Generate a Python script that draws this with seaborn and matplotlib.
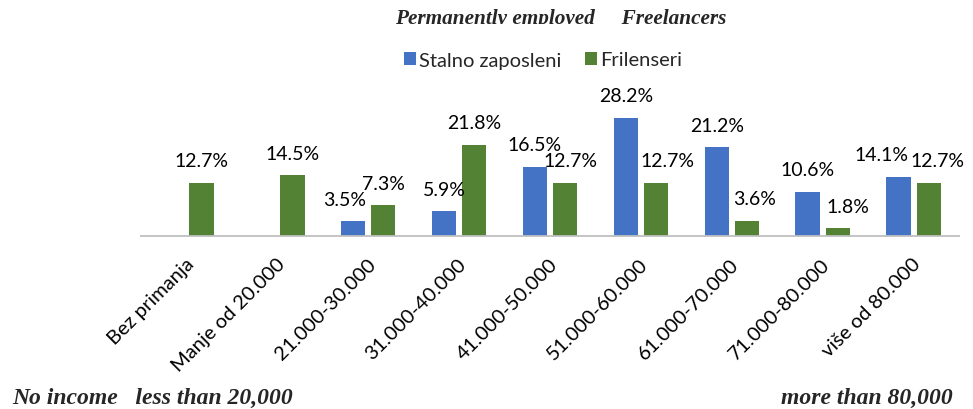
import numpy as np
import pandas as pd
import matplotlib
matplotlib.use("Agg")
import matplotlib.pyplot as plt
import matplotlib.transforms as mtransforms
import seaborn as sns

# Income brackets (RSD) and share of respondents per group, in percent
categories = [
    "Bez primanja", "Manje od 20.000", "21.000-30.000", "31.000-40.000",
    "41.000-50.000", "51.000-60.000", "61.000-70.000", "71.000-80.000",
    "više od 80.000",
]
series_names = ["Stalno zaposleni", "Frilenseri"]
stalno_zaposleni = [np.nan, np.nan, 3.5, 5.9, 16.5, 28.2, 21.2, 10.6, 14.1]
frilenseri = [12.7, 14.5, 7.3, 21.8, 12.7, 12.7, 3.6, 1.8, 12.7]

header_text = "Permanently employed     Freelancers"
footer_left = "No income   less than 20,000"
footer_right = "more than 80,000"

colors = ["#4472C4", "#548235"]

df = pd.DataFrame({
    "kategorija": categories * 2,
    "grupa": [series_names[0]] * len(categories) + [series_names[1]] * len(categories),
    "udeo": stalno_zaposleni + frilenseri,
})

sns.set_theme(style="white")
plt.rcParams["font.family"] = ["Lato", "DejaVu Sans"]

W, H, DPI = 973, 410, 100
fig = plt.figure(figsize=(W / DPI, H / DPI), dpi=DPI)
fig.patch.set_facecolor("white")

# plot area in pixel terms: x 141..959, baseline at y=237
left, right = 141, 959
base_y = 237
ymax = 30.0
px_per_unit = 4.18
top_y = base_y - ymax * px_per_unit
ax = fig.add_axes([left / W, (H - base_y) / H, (right - left) / W, (base_y - top_y) / H])

sns.barplot(
    data=df, x="kategorija", y="udeo", hue="grupa",
    order=categories, hue_order=series_names, palette=colors,
    saturation=1, width=0.665, gap=0.2, linewidth=0, errorbar=None, ax=ax,
)

ax.set_xlim(-0.5, len(categories) - 0.5)
ax.set_ylim(0, ymax)
ax.set_xlabel("")
ax.set_ylabel("")
ax.set_yticks([])
for side in ["left", "right", "top"]:
    ax.spines[side].set_visible(False)
ax.spines["bottom"].set_color("#BFBFBF")
ax.spines["bottom"].set_linewidth(1.3)
ax.patch.set_alpha(0)

# rotated category labels
ax.tick_params(axis="x", length=0, pad=13.5, labelsize=14.5, colors="black")
ax.set_xticks(range(len(categories)))
ax.set_xticklabels(categories, rotation=45, ha="right", va="top", rotation_mode="anchor")
shift = mtransforms.ScaledTranslation(-1.5 / DPI, 0, fig.dpi_scale_trans)
for lbl in ax.get_xticklabels():
    lbl.set_transform(lbl.get_transform() + shift)

# value labels above bars, with a few sideways nudges (pixels) to avoid overlaps
nudges = {(0, 2): -8.5, (1, 4): 5, (1, 5): 11, (1, 6): 7.5, (1, 7): 10.5,
          (0, 8): -16.5, (1, 8): 8.5}
for si, cont in enumerate(ax.containers):
    for bar in cont:
        h = bar.get_height()
        if not np.isfinite(h) or h <= 0:
            continue
        cx = bar.get_x() + bar.get_width() / 2
        ci = int(round(cx))
        dx = nudges.get((si, ci), 0) * 0.72
        ax.annotate(f"{h:.1f}%", (cx, h), xytext=(dx, 16.0), textcoords="offset points",
                    ha="center", va="center", fontsize=14, color="black",
                    annotation_clip=False)

# legend above the plot
leg = ax.get_legend()
if leg is not None:
    leg.remove()
handles, labels = ax.get_legend_handles_labels()
fig.legend(handles, labels, loc="center", ncol=2, frameon=False,
           bbox_to_anchor=(543 / W, 1 - 61 / H), bbox_transform=fig.transFigure,
           fontsize=14.5, handlelength=0.6, handleheight=0.6, handletextpad=0.15,
           columnspacing=1.2)

# English header line, cut off just under the baseline
serif = ["Liberation Serif", "DejaVu Serif"]
hdr = fig.text(395 / W, 1 - 24 / H, header_text, ha="left", va="baseline",
               fontsize=15.3, fontweight="bold", fontstyle="italic", family=serif)
hdr.set_clip_box(mtransforms.TransformedBbox(
    mtransforms.Bbox.from_extents(0, 1 - 25 / H, 1, 1), fig.transFigure))
hdr.set_clip_on(True)

# English footer notes
fig.text(12 / W, 1 - 404 / H, footer_left, ha="left", va="baseline",
         fontsize=17, fontweight="bold", fontstyle="italic", family=serif)
fig.text(953 / W, 1 - 404 / H, footer_right, ha="right", va="baseline",
         fontsize=17, fontweight="bold", fontstyle="italic", family=serif)

fig.savefig("out.png", dpi=DPI, facecolor="white")
